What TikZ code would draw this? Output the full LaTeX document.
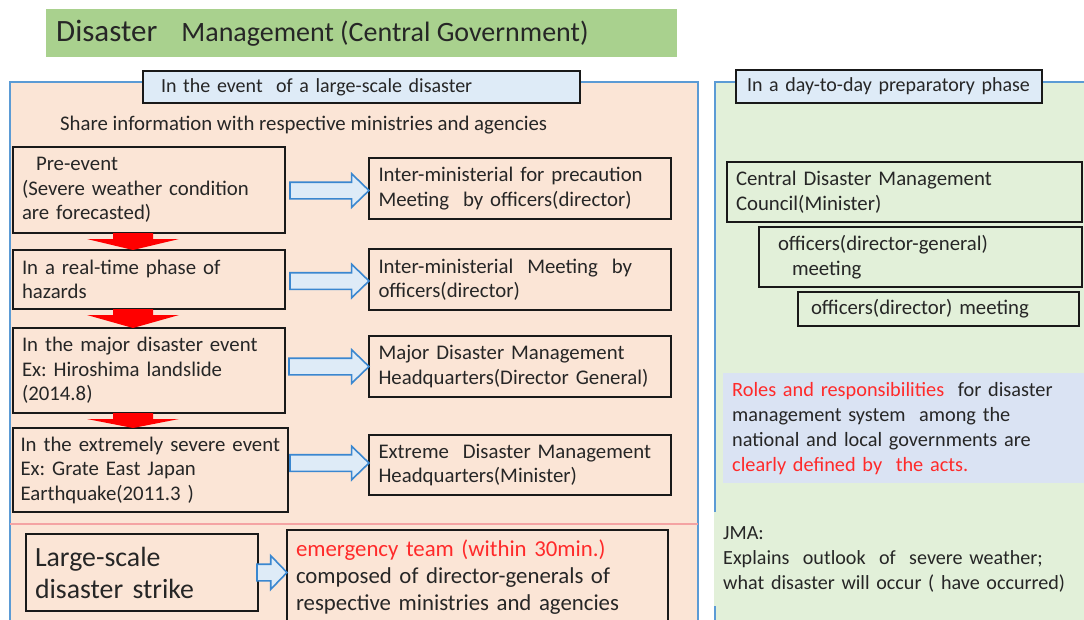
\documentclass[tikz,border=0pt]{standalone}
\usepackage{fontspec}
\setmainfont{Carlito}
\usetikzlibrary{calc,shapes.arrows}
\frenchspacing

\definecolor{pinkbg}{HTML}{FBE5D6}
\definecolor{greenbg}{HTML}{E2F0D9}
\definecolor{hdrblue}{HTML}{DEEBF7}
\definecolor{bandblue}{HTML}{DAE3F3}
\definecolor{titlegreen}{HTML}{A9D18E}
\definecolor{panelblue}{HTML}{5B9BD5}
\definecolor{arrowblue}{HTML}{3A87D0}
\definecolor{inkgray}{HTML}{262626}
\definecolor{alertred}{HTML}{FF2A2A}
\definecolor{dividerred}{HTML}{F4A3A3}

\newcommand\bodyfont{\fontsize{20.8}{24.5}\selectfont}
\newcommand\hdrfont{\fontsize{20}{24}\selectfont}

% red down arrow between two stacked boxes, centred on the x of coordinate #3
\newcommand\reddrop[3]{%
  \fill[stepred]
    ($(#1.south -| #3)+(-20,0)$) -- ($(#1.south -| #3)+(20,0)$)
    -- ($(#1.south -| #3)+(20,6)$) -- ($(#1.south -| #3)+(46,6)$)
    -- (#2.north -| #3)
    -- ($(#1.south -| #3)+(-46,6)$) -- ($(#1.south -| #3)+(-20,6)$) -- cycle;}

\begin{document}
\begin{tikzpicture}[x=1pt,y=-1pt,
  every node/.style={text=inkgray},
  panel/.style={draw=panelblue,line width=1.6pt,inner sep=0,outer sep=0,anchor=north west},
  hdrbox/.style={draw=black!90,line width=2.4pt,fill=hdrblue,anchor=north west,align=left,font=\hdrfont,outer sep=0},
  stagebox/.style={draw=black!90,line width=2.4pt,anchor=north west,align=left,font=\bodyfont,inner xsep=9pt,inner ysep=0pt,outer sep=0},
  barrow/.style={single arrow,draw=arrowblue,fill=hdrblue,line width=1.6pt,
    inner xsep=0pt,inner ysep=7.5pt,outer sep=0pt,single arrow head extend=8.5pt,
    single arrow tip angle=88,anchor=tip},
  stepred/.style={fill=red},
]
\clip (0,0) rectangle (1084,619);
\fill[white] (0,0) rectangle (1084,619);

% ---- title bar
\node[fill=titlegreen,anchor=north west,minimum width=631pt,minimum height=48pt,inner sep=0] (title) at (46,9) {};
\node[anchor=west,inner sep=0] (titletext) at (56,33)
  {\fontsize{31}{34}\selectfont Disaster\hspace*{24pt}\fontsize{28}{34}\selectfont Management (Central Government)};

% ---- two panels
\node[panel,fill=pinkbg,minimum width=688pt,minimum height=560pt] (lp) at (10,82) {};
\node[panel,fill=greenbg,minimum width=390pt,minimum height=560pt] (rp) at (715,82) {};

% ---- panel headers
\node[hdrbox,minimum width=437pt,minimum height=32pt,text width=401pt,inner xsep=18pt,inner ysep=0pt] (hleft) at (143,71)
  {In the event\ \ of a large-scale disaster};
\node[hdrbox,minimum width=306pt,minimum height=33pt,text width=284pt,inner xsep=11pt,inner ysep=0pt] (hright) at (736,70)
  {In a day-to-day preparatory phase};

\node[anchor=west,font=\bodyfont,inner sep=0] (share) at (60,125)
  {Share information with respective ministries and agencies};

% ---- escalation stages (left column)
\node[stagebox,minimum width=272pt,minimum height=86pt,text width=254pt] (b1) at (13,147)
  {\hspace*{14pt}Pre-event\\(Severe weather condition\\are forecasted)};
\node[stagebox,minimum width=272pt,minimum height=59pt,text width=254pt] (b2) at (13,250)
  {In a real-time phase of\\hazards};
\node[stagebox,minimum width=272pt,minimum height=85pt,text width=254pt] (b3) at (13,328)
  {In the major disaster event\\Ex: Hiroshima landslide\\(2014.8)};
\node[stagebox,minimum width=275pt,minimum height=84pt,text width=260pt,inner xsep=7.5pt] (b4) at (13,428)
  {In the extremely severe event\\Ex: Grate East Japan\\Earthquake(2011.3 )};

% ---- response bodies (right column)
\node[stagebox,minimum width=302pt,minimum height=61pt,text width=283pt,inner xsep=9.5pt] (r1) at (369,158)
  {Inter-ministerial for precaution\\Meeting\ \ by officers(director)};
\node[stagebox,minimum width=302pt,minimum height=61pt,text width=283pt,inner xsep=9.5pt] (r2) at (369,249)
  {Inter-ministerial\ \ Meeting\ \ by\\officers(director)};
\node[stagebox,minimum width=302pt,minimum height=61pt,text width=283pt,inner xsep=9.5pt] (r3) at (369,336)
  {Major Disaster Management\\Headquarters(Director General)};
\node[stagebox,minimum width=302pt,minimum height=60pt,text width=283pt,inner xsep=9.5pt] (r4) at (369,435)
  {Extreme\ \ Disaster Management\\Headquarters(Minister)};

% ---- escalation arrows
\coordinate (redx) at (133,0);
\reddrop{b1}{b2}{redx}
\reddrop{b2}{b3}{redx}
\reddrop{b3}{b4}{redx}

% ---- hand-over arrows
\node[barrow,minimum height=79pt] (a1) at ($(r1.west)+(0,2)$) {};
\node[barrow,minimum height=79pt] (a2) at ($(r2.west)+(0,1.5)$) {};
\node[barrow,minimum height=80pt] (a3) at (r3.west) {};
\node[barrow,minimum height=79pt] (a4) at ($(r4.west)+(0,-2)$) {};

% ---- divider
\coordinate (divL) at (10,524);
\coordinate (divR) at (698,524);
\draw[dividerred,line width=1.2pt] (divL) -- (divR);

% ---- initial response
\node[stagebox,minimum width=232pt,minimum height=77pt,text width=214pt,font=\fontsize{27.8}{32}\selectfont] (ls) at (26,534)
  {Large-scale\\disaster strike};
\node[stagebox,minimum width=381pt,minimum height=94pt,text width=363pt,inner xsep=9pt,font=\fontsize{22.8}{27}\selectfont] (em) at (287,530)
  {\textcolor{alertred}{emergency team (within 30min.)}\\composed of director-generals of\\respective ministries and agencies};
\node[barrow,minimum height=30pt,single arrow tip angle=92] (a5) at (em.west |- ls.east) {};

% ---- day-to-day bodies
\node[stagebox,minimum width=355pt,minimum height=60pt,text width=337pt] (c1) at (727,162)
  {Central Disaster Management\\Council(Minister)};
\node[stagebox,minimum width=323pt,minimum height=60pt,text width=305pt] (c2) at (759,227)
  {\hspace*{10pt}officers(director-general)\\\hspace*{24pt}meeting};
\node[stagebox,minimum width=281pt,minimum height=34pt,text width=263pt] (c3) at (798,292)
  {\hspace*{4pt}officers(director) meeting};

\node[fill=bandblue,anchor=north west,minimum width=370pt,minimum height=110pt,text width=352pt,
      inner xsep=9pt,inner ysep=0pt,align=left,font=\fontsize{20.3}{25}\selectfont] (band) at (723,373)
  {\textcolor{alertred}{Roles and responsibilities}\ \ for disaster\\
   management system\ \ among the\\
   national and local governments are\\
   \textcolor{alertred}{clearly defined by\ \ the acts.}};

\node[fill=greenbg,anchor=north west,minimum width=377pt,minimum height=94pt,text width=359.4pt,
      inner xsep=8.8pt,inner ysep=0pt,align=left,font=\fontsize{20.1}{25}\selectfont] (jma) at (714.2,512)
  {JMA:\\Explains\ \ outlook\ \ of\ \ severe weather;\\what disaster will occur ( have occurred)};
\end{tikzpicture}
\end{document}
